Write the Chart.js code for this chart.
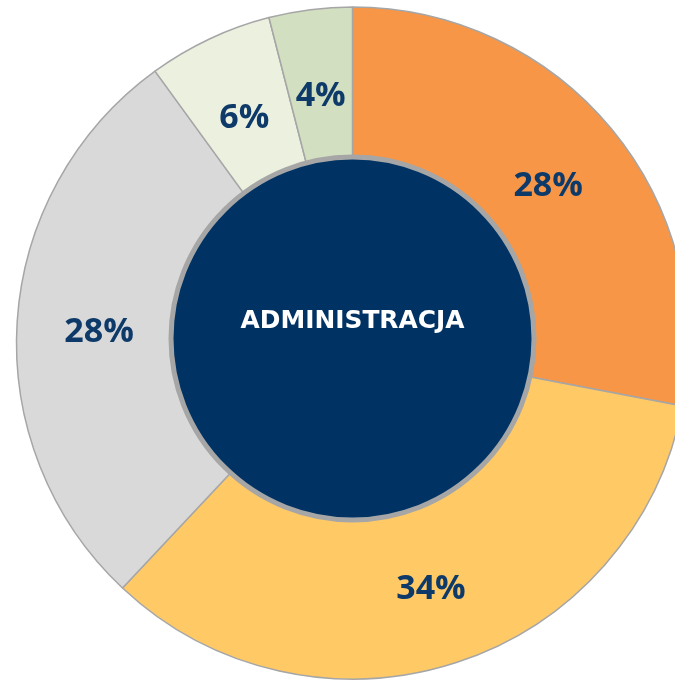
<!DOCTYPE html>
<html>
<head>
<meta charset="utf-8">
<script src="https://cdn.jsdelivr.net/npm/chart.js@4"></script>
<style>
  html, body { margin: 0; padding: 0; background: #ffffff; overflow: hidden; }
  #wrap { position: absolute; left: 0; top: 0; width: 705px; height: 686px; }
</style>
</head>
<body>
<div id="wrap"><canvas id="wykres"></canvas></div>
<script>
// dane
const kategorie = ["A", "B", "C", "D", "E"];
const wartosci = [28, 34, 28, 6, 4];
const etykiety = ["28%", "34%", "28%", "6%", "4%"];
const kolory = ["#F79646", "#FFC966", "#D9D9D9", "#EBF0DF", "#D2DFC0"];
const tytulSrodka = "ADMINISTRACJA";

// etykiety procentowe na łukach + koło w środku
const pluginOpisy = {
  id: "opisy",
  afterDatasetsDraw(chart) {
    const ctx = chart.ctx;
    const luki = chart.getDatasetMeta(0).data;
    if (!luki.length) return;
    const cx = luki[0].x, cy = luki[0].y;
    const rOut = luki[0].outerRadius;
    const rKolo = 184;

    ctx.save();
    ctx.font = "bold 34px 'Open Sans'";
    ctx.fillStyle = "#0E3A6A";
    ctx.textAlign = "center";
    ctx.textBaseline = "middle";
    const rTxt = rOut - 0.54 * (rOut - rKolo);
    luki.forEach((luk, i) => {
      const kat = (luk.startAngle + luk.endAngle) / 2;
      ctx.fillText(etykiety[i], cx + Math.cos(kat) * rTxt, cy + Math.sin(kat) * rTxt + 5);
    });

    // środkowe koło
    const ky = cy - 4.5;
    ctx.beginPath();
    ctx.arc(cx, ky, rKolo - 2.5, 0, Math.PI * 2);
    ctx.fillStyle = "#003363";
    ctx.fill();
    ctx.lineWidth = 5;
    ctx.strokeStyle = "#A6A6A6";
    ctx.stroke();

    ctx.font = "bold 25px 'DejaVu Sans'";
    ctx.fillStyle = "#ffffff";
    ctx.fillText(tytulSrodka, cx, ky - 17, 224);
    ctx.restore();
  }
};

new Chart(document.getElementById("wykres"), {
  type: "doughnut",
  data: {
    labels: kategorie,
    datasets: [{
      data: wartosci,
      backgroundColor: kolory,
      borderColor: "#A6A6A6",
      borderWidth: 1.5,
      borderAlign: "center"
    }]
  },
  options: {
    responsive: true,
    maintainAspectRatio: false,
    animation: false,
    radius: 336,
    cutout: 170,
    layout: { padding: { top: 7, bottom: 7 } },
    plugins: { legend: { display: false }, tooltip: { enabled: false } }
  },
  plugins: [pluginOpisy]
});
</script>
</body>
</html>
